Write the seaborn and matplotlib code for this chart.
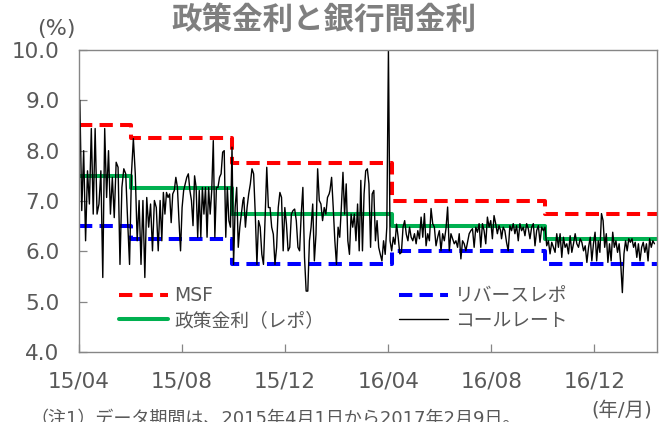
import numpy as np
import pandas as pd
import matplotlib
matplotlib.use("Agg")
import matplotlib.pyplot as plt
import matplotlib.dates as mdates
import seaborn as sns

# ---------------- data ----------------
policy_dates = ["2015-04-01", "2015-06-02", "2015-09-29", "2016-04-05", "2016-10-04", "2017-02-13"]
msf = [8.50, 8.25, 7.75, 7.00, 6.75, 6.75]
repo = [7.50, 7.25, 6.75, 6.50, 6.25, 6.25]
reverse_repo = [6.50, 6.25, 5.75, 6.00, 5.75, 5.75]

# call rate in seven date spans
call_spans = [("2015-04-02", "2015-07-06"), ("2015-07-08", "2015-10-12"),
              ("2015-10-13", "2016-01-22"), ("2016-01-23", "2016-04-30"),
              ("2016-05-02", "2016-08-12"), ("2016-08-13", "2016-11-24"),
              ("2016-11-26", "2017-02-10")]
call_a = [9.00, 6.81, 8.00, 6.21, 7.60, 6.94, 8.44, 6.74, 8.44, 6.74, 6.94, 7.60, 5.48, 8.44,
          7.07, 8.00, 6.74, 7.47, 6.67, 7.77, 7.67, 5.74, 7.27, 7.64, 7.54, 6.61, 5.74, 7.54,
          8.24, 7.54, 6.21, 7.01, 5.74, 7.01, 5.48, 7.07, 6.48, 6.94, 6.01, 7.01, 6.87, 6.01, 7.01]
call_b = [6.21, 7.17, 6.74, 7.17, 7.07, 7.14, 6.57, 7.14, 7.21, 7.47, 7.27, 6.61, 6.01, 6.87,
          7.21, 7.34, 7.47, 7.54, 7.21, 7.01, 6.51, 7.50, 7.27, 6.28, 7.21, 6.28, 7.27, 6.74,
          7.27, 6.28, 7.27, 6.74, 7.21, 8.20, 6.28, 7.27, 7.27, 7.47, 7.54, 7.97, 8.00, 6.28,
          7.27, 6.61, 6.48, 8.07, 5.74, 6.87, 7.27, 6.08, 6.48, 6.74, 7.01]
call_c = [7.07, 6.48, 6.87, 7.14, 7.34, 7.64, 7.54, 6.74, 5.74, 6.61, 6.48, 5.94, 5.74, 6.67,
          7.67, 6.87, 6.87, 6.48, 6.34, 5.74, 6.08, 6.87, 7.17, 7.07, 6.01, 6.87, 6.54, 6.01,
          6.08, 6.74, 6.81, 6.84, 6.61, 6.08, 6.01, 6.74, 7.27, 5.88, 5.21, 5.21, 6.21, 6.48,
          6.94, 5.81, 6.34, 7.64, 7.01, 6.94, 6.61, 6.87, 6.74, 7.07, 7.14]
call_d = [7.21, 7.47, 6.87, 6.21, 5.74, 6.48, 6.28, 6.87, 7.57, 6.74, 7.34, 6.21, 5.94, 6.74,
          6.48, 6.74, 6.21, 6.94, 6.01, 7.41, 6.01, 7.14, 7.60, 7.64, 7.34, 6.08, 7.14, 7.21,
          6.21, 6.61, 6.08, 5.94, 5.81, 6.21, 5.94, 6.48, 10.00, 6.21, 6.01, 6.28, 6.14, 6.54,
          6.28, 5.95, 5.98, 6.48, 6.61, 6.34, 6.21, 6.48, 6.28, 6.21]
call_e = [6.35, 6.15, 6.41, 6.25, 6.68, 6.28, 6.75, 6.11, 6.35, 6.21, 6.85, 6.55, 6.48, 6.11,
          6.28, 6.41, 6.01, 6.35, 6.21, 6.45, 6.88, 6.01, 6.35, 6.25, 6.15, 6.21, 6.08, 6.35,
          5.85, 6.21, 6.15, 6.01, 6.18, 6.35, 6.41, 6.45, 6.08, 6.48, 6.38, 6.55, 6.08, 6.55,
          6.41, 6.15, 6.68, 6.48, 6.61, 6.25, 6.71, 6.55, 6.35, 6.51, 6.41]
call_f = [6.25, 6.48, 6.41, 6.18, 6.01, 6.51, 6.41, 6.55, 6.35, 6.51, 6.21, 6.55, 6.41, 6.48,
          6.31, 6.55, 6.45, 6.25, 6.48, 6.55, 6.11, 6.41, 6.51, 6.18, 6.48, 6.41, 6.48, 6.11,
          6.21, 5.95, 6.18, 6.08, 5.98, 6.35, 6.08, 6.35, 5.88, 6.28, 6.08, 6.15, 5.95, 6.31,
          5.98, 6.15, 6.35, 6.15, 6.08, 6.25, 6.18, 6.01, 6.11, 5.78, 6.08]
call_g = [6.28, 5.81, 6.15, 6.38, 5.81, 6.21, 5.98, 6.75, 6.61, 6.08, 6.35, 5.78, 6.15, 5.81,
          6.38, 6.08, 6.21, 5.98, 6.15, 5.75, 5.18, 5.95, 6.21, 6.01, 6.25, 6.18, 6.25, 6.08,
          6.18, 5.88, 6.15, 5.81, 6.08, 6.18, 5.98, 6.15, 5.81, 6.25, 6.08, 6.21, 6.15]
call_values = [call_a, call_b, call_c, call_d, call_e, call_f, call_g]

x_ticks = ["2015-04-01", "2015-08-01", "2015-12-01", "2016-04-01", "2016-08-01", "2016-12-01"]
y_ticks = [4.0, 5.0, 6.0, 7.0, 8.0, 9.0, 10.0]

title = "政策金利と銀行間金利"
labels = {"msf": "MSF", "repo": "政策金利（レポ）", "rr": "リバースレポ", "call": "コールレート"}

# ---------------- frames ----------------
pol = pd.DataFrame({"date": pd.to_datetime(policy_dates), "msf": msf,
                    "repo": repo, "rr": reverse_repo})
parts = []
for (s, e), vals in zip(call_spans, call_values):
    parts.append(pd.DataFrame({"date": pd.date_range(s, e, periods=len(vals)), "rate": vals}))
call = pd.concat(parts, ignore_index=True)

# ---------------- plot ----------------
sns.set_theme(style="white")
plt.rcParams["font.family"] = ["DejaVu Sans", "Noto Sans CJK JP"]
grey_txt = "#595959"
grey_ax = "#868686"

fig = plt.figure(figsize=(6.66, 4.22), dpi=100)
ax = fig.add_axes([79 / 666, 1 - 352 / 422, 578 / 666, 302 / 422])

sns.lineplot(data=pol, x="date", y="msf", ax=ax, color="#FF0000", lw=2.9,
             linestyle=(0, (3.3, 1.8)), drawstyle="steps-post", label=labels["msf"], errorbar=None)
sns.lineplot(data=pol, x="date", y="repo", ax=ax, color="#00B050", lw=2.9,
             drawstyle="steps-post", label=labels["repo"], errorbar=None)
sns.lineplot(data=pol, x="date", y="rr", ax=ax, color="#0000FF", lw=2.9,
             linestyle=(0, (3.3, 1.8)), drawstyle="steps-post", label=labels["rr"], errorbar=None)
sns.lineplot(data=call, x="date", y="rate", ax=ax, color="black", lw=1.0,
             label=labels["call"], errorbar=None)

ax.set_xlim(pd.Timestamp("2015-04-01"), pd.Timestamp("2017-02-13"))
ax.set_ylim(4.0, 10.0)
ax.set_xticks(pd.to_datetime(x_ticks))
ax.xaxis.set_major_formatter(mdates.DateFormatter("%y/%m"))
ax.set_yticks(y_ticks)
ax.set_yticklabels([f"{v:.1f}" for v in y_ticks])
ax.set_xlabel("")
ax.set_ylabel("")
ax.tick_params(axis="both", direction="in", length=5.5, width=0.9, color=grey_ax,
               labelcolor=grey_txt, labelsize=15.5, pad=14)
ax.tick_params(axis="x", bottom=True, top=False)
ax.tick_params(axis="y", left=True, right=False)
for sp in ax.spines.values():
    sp.set_color(grey_ax)
    sp.set_linewidth(1.0)
ax.grid(False)

h, l = ax.get_legend_handles_labels()
order = [labels["msf"], labels["repo"], labels["rr"], labels["call"]]
hd = dict(zip(l, h))
ax.legend([hd[k] for k in order], order, ncol=2, frameon=False, fontsize=13.5,
          labelcolor=grey_txt, handlelength=2.6, handletextpad=0.35, columnspacing=4.0,
          labelspacing=0.3, loc="center", bbox_to_anchor=(343 / 666, 1 - 308 / 422),
          bbox_transform=fig.transFigure)

fig.text(324 / 666, 1 - 20 / 422, title, ha="center", va="center", fontsize=22,
         weight="bold", color="#7F7F7F", family=["Noto Sans CJK JP"])
fig.text(56 / 666, 1 - 29 / 422, "(%)", ha="center", va="center", fontsize=16, color=grey_txt)
fig.text(622 / 666, 1 - 410 / 422, "(年/月)", ha="center", va="center", fontsize=14, color=grey_txt)
fig.text(30 / 666, 1 - 410 / 422, "（注1）データ期間は、2015年4月1日から2017年2月9日。",
         ha="left", va="top", fontsize=13, color=grey_txt)

fig.savefig("out.png", dpi=100)
